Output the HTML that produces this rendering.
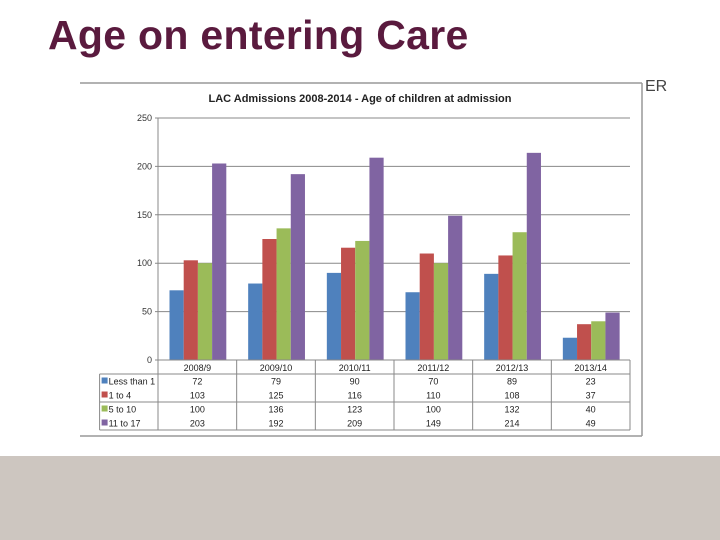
<!DOCTYPE html>
<html><head><meta charset="utf-8"><style>
body{margin:0;width:720px;height:540px;background:#fff;overflow:hidden;position:relative;font-family:"Liberation Sans",sans-serif}
#title{position:absolute;left:48px;top:12px;font-size:41px;font-weight:bold;color:#5a1a3e;margin:0;letter-spacing:0.3px}
#band{position:absolute;left:0;top:456px;width:720px;height:84px;background:#cdc6c0}
#er{position:absolute;left:645px;top:78px;font-size:16px;color:#444}
svg{position:absolute;left:0;top:0}
</style></head><body>
<h1 id="title">Age on entering Care</h1>
<div id="er">ER</div>
<div id="band"></div>
<svg id="chart" width="720" height="540"></svg>
<script>
const categories=["2008/9","2009/10","2010/11","2011/12","2012/13","2013/14"];
const seriesNames=["Less than 1","1 to 4","5 to 10","11 to 17"];
const lessThan1=[72,79,90,70,89,23];
const oneTo4=[103,125,116,110,108,37];
const fiveTo10=[100,136,123,100,132,40];
const elevenTo17=[203,192,209,149,214,49];
const yTicks=[0,50,100,150,200,250];
const colors=["#4f81bd","#c0504d","#9bbb59","#8064a2"];
const series=[lessThan1,oneTo4,fiveTo10,elevenTo17];
const svg=document.getElementById('chart');const NS="http://www.w3.org/2000/svg";
function mk(t,a,p){const e=document.createElementNS(NS,t);for(const k in a)e.setAttribute(k,a[k]);(p||svg).appendChild(e);return e;}
const x0=158,x1=630,y0=360,yTop=118,ymax=250;
const y=v=>y0-(v/ymax)*(y0-yTop);
const cw=(x1-x0)/categories.length;
const bx=(i,s)=>x0+i*cw+11.5+s*14.2;
let e;
e=mk('line',{x1:80,y1:83,x2:642,y2:83,stroke:'#999','stroke-width':1.5});

e=mk('line',{x1:642,y1:83,x2:642,y2:436,stroke:'#999','stroke-width':1.5});

e=mk('line',{x1:80,y1:436,x2:642,y2:436,stroke:'#999','stroke-width':1.5});

e=mk('text',{x:360,y:102,'text-anchor':'middle','font-size':11,'font-weight':'bold',fill:'#222'});e.textContent="LAC Admissions 2008-2014 - Age of children at admission";

yTicks.forEach(t=>{
 e=mk('line',{x1:x0-3,y1:y(t),x2:x1,y2:y(t),stroke:'#888','stroke-width':1});
 
 e=mk('text',{x:x0-6,y:y(t)+3,'text-anchor':'end','font-size':9,fill:'#333'});e.textContent=t;
 
});
e=mk('line',{x1:x0,y1:yTop,x2:x0,y2:y0,stroke:'#888'});

series.forEach((arr,s)=>arr.forEach((v,i)=>{
 e=mk('rect',{x:bx(i,s),y:y(v),width:14.2,height:y0-y(v),fill:colors[s]});
 
}));
// table
const tl=99.6,rows=[360,374,388,402,416,430];
const g=mk('g',{stroke:'#888','stroke-width':1,fill:'none'});

mk('line',{x1:x0,y1:360,x2:x1,y2:360},g);
mk('line',{x1:tl,y1:374,x2:x1,y2:374},g);
mk('line',{x1:tl,y1:402,x2:x1,y2:402},g);
mk('line',{x1:tl,y1:430,x2:x1,y2:430},g);
mk('line',{x1:tl,y1:374,x2:tl,y2:430},g);
for(let i=0;i<=categories.length;i++)mk('line',{x1:x0+i*cw,y1:360,x2:x0+i*cw,y2:430},g);
categories.forEach((c,i)=>{
 e=mk('text',{x:x0+i*cw+cw/2,y:371,'text-anchor':'middle','font-size':9,fill:'#222'});e.textContent=c;
 
});
series.forEach((arr,s)=>{
 const ry=rows[1]+s*14+10.5;
 e=mk('rect',{x:tl+2,y:ry-7,width:6,height:6,fill:colors[s]});
 
 e=mk('text',{x:tl+9,y:ry,'font-size':9,fill:'#222'});e.textContent=seriesNames[s];
 
 arr.forEach((v,i)=>{
  e=mk('text',{x:x0+i*cw+cw/2,y:ry,'text-anchor':'middle','font-size':9,fill:'#222'});e.textContent=v;
  
 });
});
</script>
</body></html>
